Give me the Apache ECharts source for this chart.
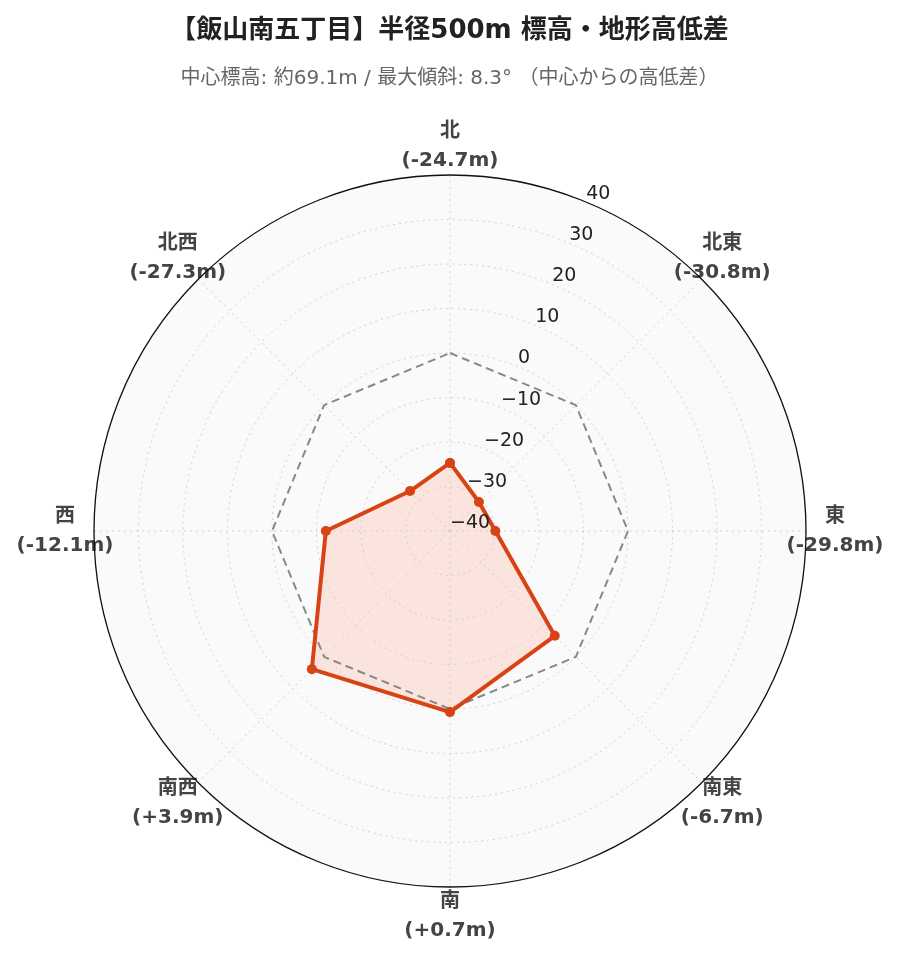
<!DOCTYPE html>
<html>
<head>
<meta charset="utf-8">
<script src="https://cdn.jsdelivr.net/npm/echarts@6/dist/echarts.min.js"></script>
<style>html,body{margin:0;padding:0;background:#fff}#c{width:899px;height:962px}</style>
</head>
<body>
<div id="c"></div>
<script>
const directions = ['北', '北東', '東', '南東', '南', '南西', '西', '北西'];
const angles = [0, 45, 90, 135, 180, 225, 270, 315];
const diffs = [-24.7, -30.8, -29.8, -6.7, 0.7, 3.9, -12.1, -27.3];
const reference = [0, 0, 0, 0, 0, 0, 0, 0];
const radialTicks = [-40, -30, -20, -10, 0, 10, 20, 30, 40];
const titleText = '【飯山南五丁目】半径500m 標高・地形高低差';
const subtitleText = '中心標高: 約69.1m / 最大傾斜: 8.3° （中心からの高低差）';

const FONT = '"DejaVu Sans", "Noto Sans CJK JP", sans-serif';
const fmtDiff = v => '(' + (v >= 0 ? '+' : '') + v.toFixed(1) + 'm)';
const rMin = radialTicks[0], rMax = radialTicks[radialTicks.length - 1];

function closed(vals) {
  const d = vals.map((v, i) => [v, angles[i]]);
  d.push([vals[0], 360]);
  return d;
}

const chart = echarts.init(document.getElementById('c'), null, {renderer: 'canvas'});
const center = [450, 531];
const R = 356;
const LABEL_GAP = 29;
const gridLine = {show: true, lineStyle: {color: '#d0d0d0', type: [2, 4], width: 1}};

chart.setOption({
  backgroundColor: '#ffffff',
  animation: false,
  title: {
    text: titleText,
    subtext: subtitleText,
    left: 'center',
    top: 13,
    itemGap: 25,
    textStyle: {fontFamily: FONT, fontSize: 26, fontWeight: 'bold', color: '#222'},
    subtextStyle: {fontFamily: FONT, fontSize: 20, color: '#666'}
  },
  polar: [
    {center: center, radius: R},
    {center: center, radius: R},
    {center: center, radius: R}
  ],
  angleAxis: [
    {
      polarIndex: 0, type: 'value', min: 0, max: 360, interval: 45,
      startAngle: 90, clockwise: true, z: 6,
      axisLine: {show: true, lineStyle: {color: '#111', width: 1.3}},
      axisTick: {show: false}, axisLabel: {show: false}, splitLine: {show: false}
    },
    {
      polarIndex: 1, type: 'value', min: 0, max: 360, interval: 45,
      startAngle: 90, clockwise: true, z: 2,
      axisLine: {show: false}, axisTick: {show: false}, axisLabel: {show: false},
      splitLine: gridLine
    },
    {
      polarIndex: 2, type: 'value', min: 0, max: 360, startAngle: 67.5, clockwise: true,
      axisLine: {show: false}, axisTick: {show: false}, axisLabel: {show: false}, splitLine: {show: false}
    }
  ],
  radiusAxis: [
    {
      polarIndex: 0, type: 'value', min: rMin, max: rMax, interval: 10, z: 0,
      axisLine: {show: false}, axisTick: {show: false}, axisLabel: {show: false},
      splitLine: {show: false},
      splitArea: {show: true, areaStyle: {color: ['#fafafa']}}
    },
    {
      polarIndex: 1, type: 'value', min: rMin, max: rMax, interval: 10, z: 2,
      axisLine: {show: false}, axisTick: {show: false}, axisLabel: {show: false},
      splitLine: gridLine
    },
    {
      polarIndex: 2, type: 'value', min: rMin, max: rMax, interval: 10, z: 20,
      axisLine: {show: false}, axisTick: {show: false}, splitLine: {show: false},
      axisLabel: {
        show: true, showMinLabel: true, showMaxLabel: true,
        fontFamily: FONT, fontSize: 19, color: '#222', margin: 0,
        align: 'left', verticalAlign: 'bottom', lineHeight: 16,
        formatter: v => String(v).replace('-', '\u2212')
      }
    }
  ],
  series: [
    {
      name: 'area', type: 'line', coordinateSystem: 'polar', polarIndex: 0,
      data: closed(diffs), smooth: false, symbol: 'none',
      lineStyle: {width: 0, opacity: 0},
      areaStyle: {origin: 'start', color: 'rgba(255,112,67,0.22)'},
      z: 1, silent: true
    },
    {
      type: 'line', coordinateSystem: 'polar', polarIndex: 0,
      data: closed(reference), symbol: 'none', smooth: false,
      lineStyle: {color: '#888', width: 2, type: [8, 5]},
      z: 3, silent: true
    },
    {
      type: 'line', coordinateSystem: 'polar', polarIndex: 0,
      data: closed(diffs), smooth: false,
      symbol: 'circle', symbolSize: 10,
      itemStyle: {color: '#d84315'},
      lineStyle: {color: '#d84315', width: 4},
      z: 4
    },
    {
      type: 'custom', coordinateSystem: 'polar', polarIndex: 0, z: 5, silent: true,
      data: angles.map((a, i) => [rMax, a, i]),
      renderItem: function (params, api) {
        const p = api.coord([api.value(0), api.value(1)]);
        const cs = params.coordSys;
        const dx = p[0] - cs.cx, dy = p[1] - cs.cy;
        const len = Math.sqrt(dx * dx + dy * dy) || 1;
        const k = (len + LABEL_GAP) / len;
        const i = api.value(2);
        return {
          type: 'text',
          x: cs.cx + dx * k,
          y: cs.cy + dy * k,
          style: {
            text: directions[i] + '\n' + fmtDiff(diffs[i]),
            fontFamily: FONT, fontSize: 20, fontWeight: 'bold', fill: '#444',
            lineHeight: 29, align: 'center', verticalAlign: 'middle'
          }
        };
      }
    }
  ]
});
</script>
</body>
</html>
